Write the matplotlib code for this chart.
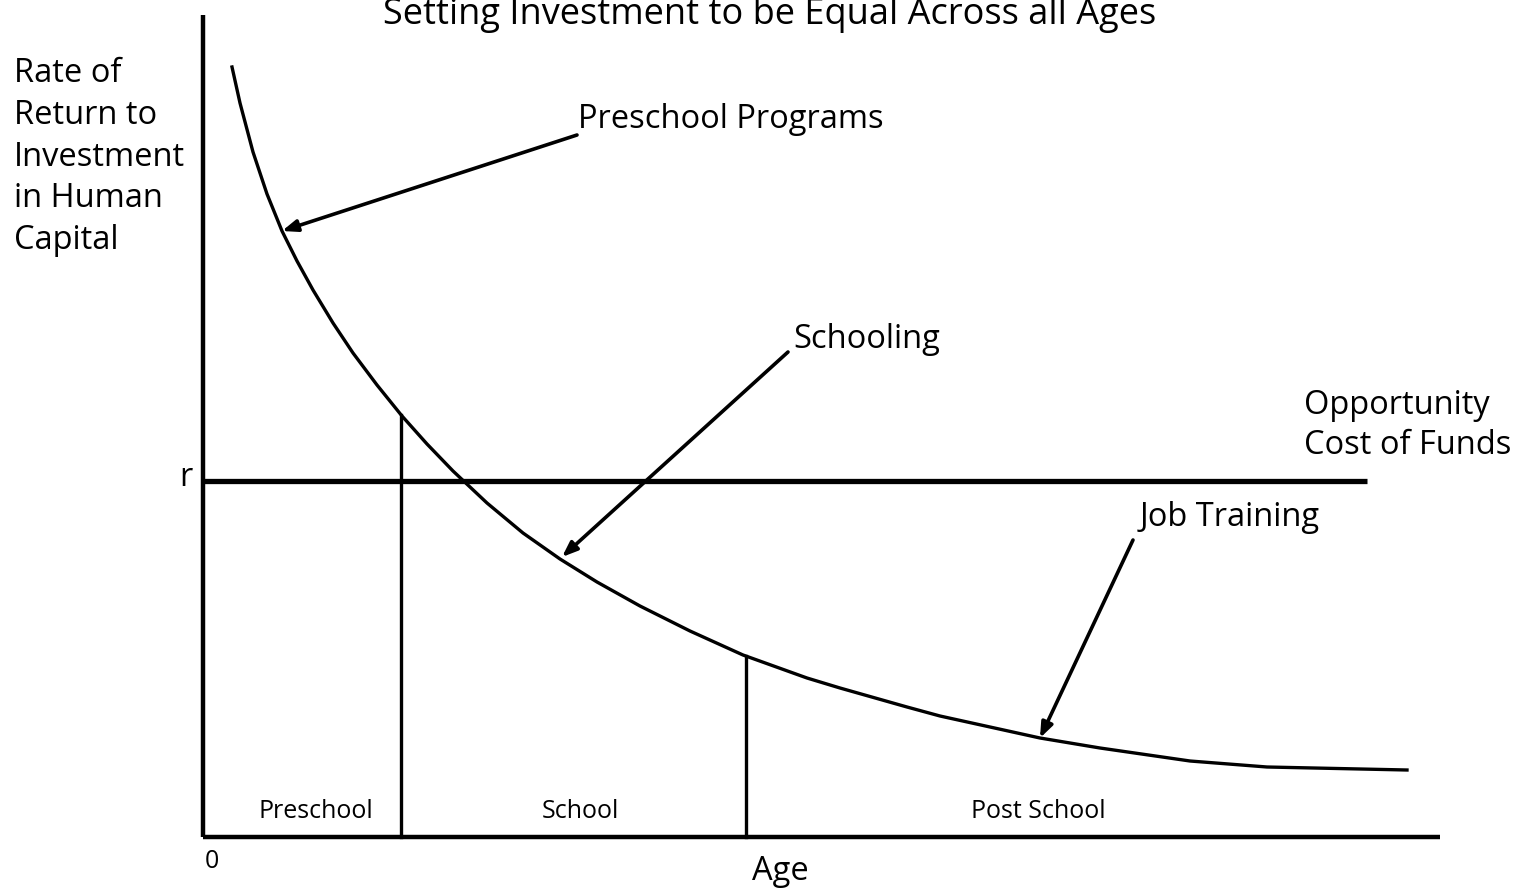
import numpy as np
import matplotlib.pyplot as plt

plt.rcParams['font.family'] = ['Open Sans', 'DejaVu Sans']

# Renditekurve (Alter und Rendite in beliebigen Einheiten)
age = [29, 37, 50, 64, 79, 94, 110, 130, 150, 174, 199, 224, 250, 284, 320,
       357, 394, 437, 487, 540, 604, 637, 704, 737, 837, 897, 987, 1064, 1204]
ret = [770, 734, 685, 643, 606, 576, 547, 514, 484, 452, 421, 393, 366, 334, 304,
       278, 255, 231, 206, 182, 159, 149, 130, 121, 99, 89, 76, 70, 67]

r_level = 356          # Opportunitaetskosten r
r_end = 1164           # Ende der r-Linie
age_cuts = [198, 543]  # Grenzen Preschool / School / Post School
phase_names = ['Preschool', 'School', 'Post School']
phase_mid = [113, 377, 835]

# Pfeile: Spitze auf der Kurve, Ende beim Text
arrow_heads = [(79, 606), (359, 280), (837, 99)]
arrow_tails = [(374, 702), (585, 485), (930, 297)]

fig = plt.figure(figsize=(15.13, 8.89), dpi=100)
ax = fig.add_axes([0, 0, 1, 1])
ax.set_xlim(-203, 1310)
ax.set_ylim(-52, 837)
ax.axis('off')

# Koordinatenachsen
ax.plot([0, 0], [0, 822], color='black', lw=3.2, solid_capstyle='butt')
ax.plot([0, 1237], [0, 0], color='black', lw=3.2, solid_capstyle='butt')

# Kurve und r-Linie
ax.plot(age, ret, color='black', lw=2.4)
ax.plot([0, r_end], [r_level, r_level], color='black', lw=3.8, solid_capstyle='butt')

# Trennlinien zwischen den Phasen
for a in age_cuts:
    ax.plot([a, a], [0, np.interp(a, age, ret)], color='black', lw=2.4)

for name, m in zip(phase_names, phase_mid):
    ax.text(m, 26, name, fontsize=18, ha='center', va='center')

for head, tail in zip(arrow_heads, arrow_tails):
    ax.annotate('', xy=head, xytext=tail,
                arrowprops=dict(arrowstyle='-|>,head_length=0.9,head_width=0.35',
                                color='black', lw=2.6, shrinkA=0, shrinkB=0))

fs = 23.5
ax.text(375, 718, 'Preschool Programs', fontsize=fs, va='center', ha='left')
ax.text(590, 498, 'Schooling', fontsize=fs, va='center', ha='left')
ax.text(937, 320, 'Job Training', fontsize=fs, va='center', ha='left')
ax.text(1101, 412, 'Opportunity\nCost of Funds', fontsize=fs, va='center', ha='left',
        linespacing=1.28)

ax.text(-11, 360, 'r', fontsize=fs, va='center', ha='right')
ax.text(2, -25, '0', fontsize=18, va='center', ha='left')
ax.text(577, -35, 'Age', fontsize=fs, va='center', ha='center')

ax.text(-189, 680, 'Rate of\nReturn to\nInvestment\nin Human\nCapital', fontsize=fs,
        va='center', ha='left', linespacing=1.35)

ax.text(567, 822, 'Setting Investment to be Equal Across all Ages', fontsize=26,
        va='center', ha='center')

fig.savefig('out.png', dpi=100)
